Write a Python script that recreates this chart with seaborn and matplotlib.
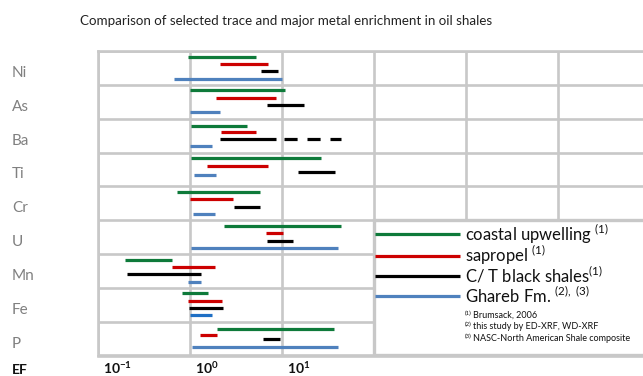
import numpy as np
import pandas as pd
import matplotlib
matplotlib.use("Agg")
import matplotlib.pyplot as plt
import seaborn as sns
from matplotlib.lines import Line2D
from matplotlib.patches import Rectangle
from matplotlib.ticker import NullLocator

# ---- data: enrichment factor ranges (low, high) per element ----
elements = ["Ni", "As", "Ba", "Ti", "Cr", "U", "Mn", "Fe", "P"]
series = ["coastal upwelling", "sapropel", "C/ T black shales", "Ghareb Fm."]

upwelling_lo = [0.95, 1.0, 1.03, 1.03, 0.73, 2.36, 0.196, 0.82, 1.98]
upwelling_hi = [5.2, 10.8, 4.2, 26.4, 5.7, 43.8, 0.63, 1.56, 36.7]
sapropel_lo = [2.12, 1.9, 2.16, 1.54, 1.0, 6.65, 0.63, 0.94, 1.29]
sapropel_hi = [7.0, 8.5, 5.2, 7.0, 2.96, 10.2, 1.87, 2.24, 1.95]
black_lo = [5.9, 6.8, 2.12, 14.8, 3.0, 6.8, 0.208, 0.975, 6.26]
black_hi = [9.0, 17.3, 8.6, 37.7, 5.7, 13.1, 1.31, 2.3, 9.5]
ghareb_lo = [0.67, 1.0, 1.0, 1.11, 1.09, 1.03, 0.94, 1.0, 1.06]
ghareb_hi = [10.0, 2.12, 1.72, 1.92, 1.87, 40.3, 1.31, 1.72, 40.9]

# uncertain upper extension of Ba in C/T black shales (dashed)
ba_black_ext = [10.4, 43.8]

tick_values = [0.1, 1, 10]
tick_labels = [r"10$^{\mathbf{-1}}$", r"10$^{\mathbf{0}}$", r"10$^{\mathbf{1}}$"]

footnotes = [
    ("(1)", "Brumsack, 2006"),
    ("(2)", "this study by ED-XRF, WD-XRF"),
    ("(3)", "NASC-North American Shale composite"),
]
legend_sup = ["(1)", "(1)", "(1)", "(2), (3)"]

# ---- layout ----
W, H = 643, 376
lane = {"coastal upwelling": 0.165, "sapropel": 0.385,
        "C/ T black shales": 0.605, "Ghareb Fm.": 0.815}
lane_nudge = {("Ti", "C/ T black shales"): -0.03, ("Ti", "Ghareb Fm."): -0.14,
              ("P", "C/ T black shales"): -0.09, ("P", "Ghareb Fm."): -0.06,
              ("P", "coastal upwelling"): 0.04, ("Ba", "coastal upwelling"): 0.04}

palette = {"coastal upwelling": "#0e7a3a", "sapropel": "#cc0000",
           "C/ T black shales": "#000000", "Ghareb Fm.": "#4f81bd",
           "Ghareb Fm. (Fe)": "#1f6fc4"}
grid_c = "#c8c8c8"

ranges = {"coastal upwelling": (upwelling_lo, upwelling_hi),
          "sapropel": (sapropel_lo, sapropel_hi),
          "C/ T black shales": (black_lo, black_hi),
          "Ghareb Fm.": (ghareb_lo, ghareb_hi)}

rows = []
seg = 0
for i, el in enumerate(elements):
    for s in series:
        lo, hi = ranges[s][0][i], ranges[s][1][i]
        y = i + lane[s] + lane_nudge.get((el, s), 0.0)
        key = "Ghareb Fm. (Fe)" if (el == "Fe" and s == "Ghareb Fm.") else s
        for v in (lo, hi):
            rows.append({"element": el, "series": key, "EF": v, "y": y, "seg": seg})
        seg += 1
df = pd.DataFrame(rows)

sns.set_theme(style="white")
plt.rcParams["font.family"] = ["Lato", "DejaVu Sans"]
plt.rcParams["mathtext.fontset"] = "custom"
plt.rcParams["mathtext.rm"] = "Lato"
plt.rcParams["mathtext.bf"] = "Lato:bold"
plt.rcParams["mathtext.it"] = "Lato"

fig = plt.figure(figsize=(W / 100, H / 100), dpi=100)
left, right, top, bottom = 98, 650, 51, 355.5
ax = fig.add_axes([left / W, 1 - bottom / H, (right - left) / W, (bottom - top) / H])

sns.lineplot(data=df, x="EF", y="y", hue="series", units="seg", estimator=None,
             sort=False, palette=palette, linewidth=2.3, legend=False, ax=ax,
             solid_capstyle="butt", zorder=4)

ba_y = elements.index("Ba") + lane["C/ T black shales"]
ext = pd.DataFrame({"EF": ba_black_ext, "y": [ba_y, ba_y]})
sns.lineplot(data=ext, x="EF", y="y", color="black", linewidth=2.3, ax=ax,
             estimator=None, sort=False, linestyle=(0, (4.1, 3.1)),
             dash_capstyle="butt", zorder=4)

ax.set_xscale("log")
ax.set_xlim(0.1, 1e5)
ax.set_ylim(len(elements), 0)
ax.set_xticks(10.0 ** np.arange(-1, 6))
ax.xaxis.set_minor_locator(NullLocator())
ax.set_yticks(np.arange(len(elements) + 1))
ax.grid(True, color=grid_c, linewidth=1.9)
ax.tick_params(length=0, labelbottom=False, labelleft=False)
ax.set_xlabel("")
ax.set_ylabel("")
for sp in ax.spines.values():
    sp.set_color(grid_c)
    sp.set_linewidth(1.9)

# legend panel covering the lower right cells
ax.add_patch(Rectangle((100, 5), 1e6, 4, facecolor="white", edgecolor=grid_c,
                       linewidth=2.4, zorder=3))


def fx(x):
    return x / W


def fy(y):
    return 1 - y / H


fig.text(fx(286), fy(21), "Comparison of selected trace and major metal enrichment in oil shales",
         ha="center", va="center", fontsize=9.6, color="#222222")

row_h = (bottom - top) / len(elements)
for i, el in enumerate(elements):
    fig.text(fx(12), fy(top + (i + 0.5) * row_h + 5), el, ha="left", va="center",
             fontsize=11, color="#808080")

fig.text(fx(12), fy(369.5), "EF", ha="left", va="center", fontsize=10,
         fontweight="bold", color="#111111")
for v, lab in zip(tick_values, tick_labels):
    xp = left + (np.log10(v) + 1) * (right - left) / 6
    fig.text(fx(xp + 5), fy(368.5), lab, ha="left", va="center", fontsize=10,
             fontweight="bold", color="#111111")

leg_y = [234.3, 255.7, 275.7, 295.7]
for s, yy, sup in zip(series, leg_y, legend_sup):
    fig.add_artist(Line2D([fx(375), fx(460)], [fy(yy), fy(yy)],
                          color=palette[s], linewidth=2.3, solid_capstyle="butt"))
    gap = " " if s != "C/ T black shales" else ""
    fig.text(fx(465), fy(yy), s + gap + "$^{\\mathrm{" + sup.replace(" ", r"\ ") + "}}$",
             ha="left", va="center", fontsize=12, color="#111111")

# footnotes: small raised marker followed by the reference text
for (mark, note), yy in zip(footnotes, [315, 326.7, 338.3]):
    fig.text(fx(465), fy(yy - 1.8), mark, ha="left", va="center",
             fontsize=4.3, color="#111111")
    fig.text(fx(473), fy(yy), note, ha="left", va="center",
             fontsize=6.5, color="#111111")

fig.savefig("out.png", dpi=100)
